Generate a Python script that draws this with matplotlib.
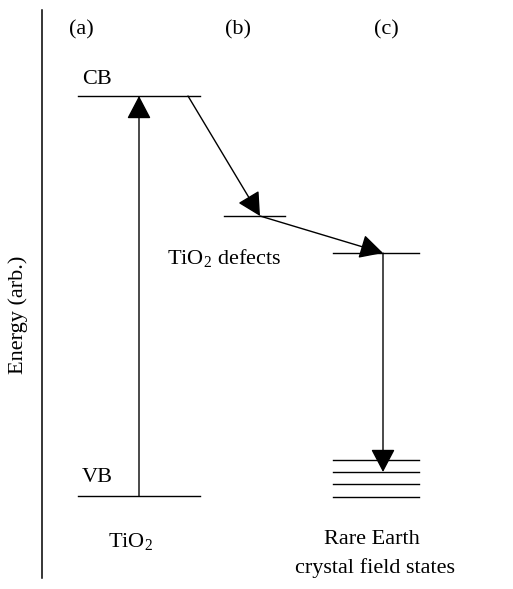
import matplotlib.pyplot as plt

plt.rcParams['font.family'] = ['Liberation Serif', 'DejaVu Serif']
plt.rcParams['mathtext.fontset'] = 'custom'
plt.rcParams['mathtext.rm'] = 'Liberation Serif'

# energy levels (pixel-like diagram units, y grows downward)
level_names = ["CB", "VB", "defect", "RE upper", "CF1", "CF2", "CF3", "CF4"]
level_x0 = [78, 78, 224, 333, 333, 333, 333, 333]
level_x1 = [200, 200, 285, 419, 419, 419, 419, 419]
level_y = [96, 496, 216, 253, 460, 472, 484, 497]

# transitions: (x_start, y_start, x_end, y_end)
trans_x0 = [139, 188, 260, 383]
trans_y0 = [496, 96, 216, 253]
trans_x1 = [139, 260, 383, 383]
trans_y1 = [96, 216, 253, 472]

col_labels = ["(a)", "(b)", "(c)"]
col_x = [81, 238, 386]

fs = 16

fig = plt.figure(figsize=(5.13, 5.89), dpi=100)
ax = fig.add_axes([0, 0, 1, 1])
ax.set_xlim(0, 513)
ax.set_ylim(589, 0)
ax.axis('off')

# energy axis
ax.plot([41.5, 41.5], [10, 578], color='black', lw=1.1)
ax.text(18, 315, "Energy (arb.)", rotation=90, ha='center', va='center', fontsize=fs)

for x0, x1, y in zip(level_x0, level_x1, level_y):
    ax.plot([x0, x1], [y, y], color='black', lw=1.0)

for x0, y0, x1, y1 in zip(trans_x0, trans_y0, trans_x1, trans_y1):
    ax.annotate("", xy=(x1, y1), xytext=(x0, y0),
                arrowprops=dict(arrowstyle='-|>,head_length=0.8,head_width=0.42',
                                color='black', lw=1.0, shrinkA=0, shrinkB=0,
                                mutation_scale=18))

for lab, x in zip(col_labels, col_x):
    ax.text(x, 30, lab, ha='center', va='center', fontsize=fs)

ax.text(82, 80, "CB", ha='left', va='center', fontsize=fs)
ax.text(82, 477, "VB", ha='left', va='center', fontsize=fs)
ax.text(167, 259, "TiO$_2$ defects", ha='left', va='center', fontsize=fs)
ax.text(108, 542, "TiO$_2$", ha='left', va='center', fontsize=fs)
ax.text(372, 539, "Rare Earth", ha='center', va='center', fontsize=fs)
ax.text(375, 568, "crystal field states", ha='center', va='center', fontsize=fs)

fig.savefig("out.png", dpi=100)
